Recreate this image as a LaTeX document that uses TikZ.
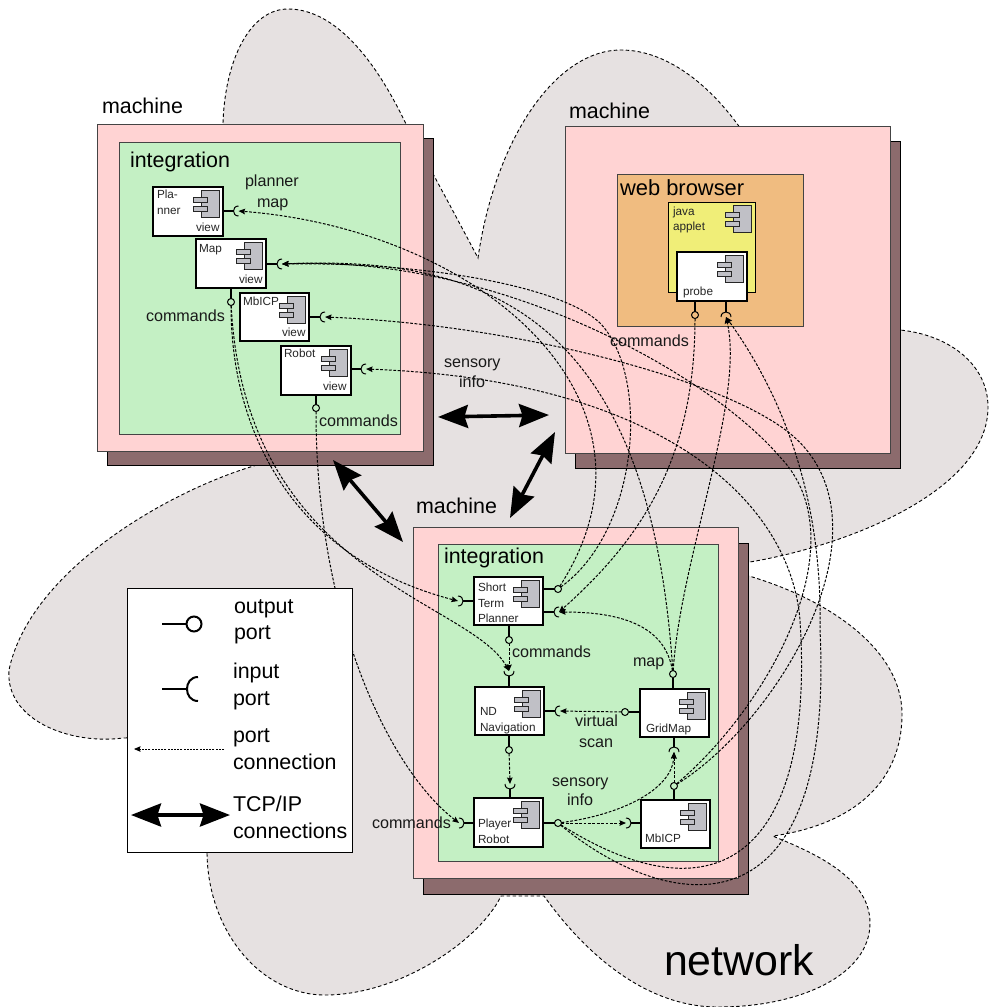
\documentclass[tikz,border=0pt]{standalone}
\usepackage{fontspec}
\setmainfont{Liberation Sans}
\usetikzlibrary{arrows.meta}
\definecolor{cloudgray}{HTML}{E6E1E1}
\definecolor{shadowc}{HTML}{8C6B6D}
\definecolor{pinkc}{HTML}{FFD3D3}
\definecolor{greenc}{HTML}{C4F0C4}
\definecolor{orangec}{HTML}{F0BC80}
\definecolor{yellowc}{HTML}{F0EE78}
\definecolor{icongray}{HTML}{C0C0C6}
\definecolor{edgegray}{HTML}{444444}
\tikzset{
  cloudpath/.style={fill=cloudgray,draw=black,line width=.9bp,dash pattern=on 3.5bp off 2.5bp},
  shadowbox/.style={draw=black,fill=shadowc,line width=1bp,inner sep=0pt,outer sep=0pt},
  machinebox/.style={draw=edgegray,fill=pinkc,line width=1bp,inner sep=0pt,outer sep=0pt},
  greenbox/.style={draw=edgegray,fill=greenc,line width=1bp,inner sep=0pt,outer sep=0pt},
  browserbox/.style={draw=edgegray,fill=orangec,line width=1bp,inner sep=0pt,outer sep=0pt},
  appletbox/.style={draw=black,fill=yellowc,line width=.9bp,inner sep=0pt,outer sep=0pt},
  compbox/.style={draw=black,fill=white,line width=1.2bp,inner sep=0pt,outer sep=0pt},
  iconshape/.style={draw=black!85,fill=icongray,line width=1bp},
  stub/.style={draw=black,line width=1.1bp},
  outport/.style={draw=black,circle,line width=1bp,minimum size=7bp,inner sep=0pt,outer sep=0pt},
  conn/.style={draw=black,line width=1bp,dash pattern=on 2.8bp off 1.6bp,-{Stealth[length=6.5bp,width=5.5bp,inset=.8bp]}},
  tcp/.style={draw=black,line width=3.6bp,{Stealth[length=30bp,width=23bp,inset=3.5bp]}-{Stealth[length=30bp,width=23bp,inset=3.5bp]}},
  bigtext/.style={font=\fontsize{21.5}{24}\selectfont,anchor=base west,inner sep=0pt,outer sep=0pt,text=black},
  midtext/.style={font=\fontsize{16.2}{19}\selectfont,anchor=base west,inner sep=0pt,outer sep=0pt,text=black!90},
  smalltext/.style={font=\fontsize{11.8}{14}\selectfont,anchor=base west,inner sep=0pt,outer sep=0pt,text=black!85},
  hugetext/.style={font=\fontsize{43}{48}\selectfont,anchor=base west,inner sep=0pt,outer sep=0pt,text=black},
  legendbox/.style={draw=black,fill=white,line width=1bp,inner sep=0pt,outer sep=0pt},
}
\newcommand\boxat[6]{\node[#1,anchor=north west,minimum width={(#5-#3)*1bp},minimum height={(#6-#4)*1bp}] (#2) at (#3,#4) {};}
\newcommand\compicon[1]{\begin{scope}[shift={(#1.north east)}]
  \draw[iconshape] (-22,3.5) rectangle (-4,30);
  \draw[iconshape] (-30,10) rectangle (-15.5,15.5);
  \draw[iconshape] (-30,19) rectangle (-15.5,24.5);
\end{scope}}
\newcommand\inport[4]{%
  \path[shift={(#2,#3)},rotate=#4] coordinate (#1) at (0,0) coordinate (#1t) at (5,0);
  \draw[stub,line width=1bp,shift={(#2,#3)},rotate=#4] (5,-5) .. controls (-1.67,-5) and (-1.67,5) .. (5,5);}
\begin{document}
\begin{tikzpicture}[x=1bp,y=-1bp]
\useasboundingbox (0,0) rectangle (989,1007);
% network cloud
\path[cloudpath] (257,465) .. controls (170,490) and (30,570) .. (9,670)
  .. controls (5,720) and (70,745) .. (123,738)
  .. controls (170,735) and (207,800) .. (207,851)
  .. controls (207,930) and (260,995) .. (325,995)
  .. controls (400,995) and (480,940) .. (501,896)
  -- (544,896)
  .. controls (590,960) and (650,1007) .. (718,1007)
  .. controls (800,1007) and (870,975) .. (870,923)
  .. controls (870,880) and (820,855) .. (775,837)
  -- (773,836)
  .. controls (850,825) and (902,785) .. (902,714)
  .. controls (902,650) and (830,600) .. (749,576)
  -- (730,570) -- (750,562)
  .. controls (850,545) and (988,490) .. (988,407)
  .. controls (988,365) and (950,335) .. (900,330)
  -- (745,135)
  .. controls (715,90) and (670,50) .. (621,50)
  .. controls (555,50) and (495,140) .. (478,258)
  .. controls (450,205) and (420,150) .. (404,120)
  .. controls (370,50) and (330,9) .. (288,9)
  .. controls (250,9) and (225,60) .. (223,123)
  -- (200,300) -- cycle;
\node[hugetext] (netlabel) at (664,975) {network};
% machines
\boxat{shadowbox}{shadowA}{107}{138}{433}{465}
\boxat{machinebox}{machineA}{97}{124}{423}{451}
\boxat{greenbox}{greenA}{119}{142}{400}{434}
\boxat{shadowbox}{shadowB}{575}{141}{900}{468}
\boxat{machinebox}{machineB}{565}{126}{890}{453}
\boxat{browserbox}{browser}{617}{174}{803}{326}
\boxat{shadowbox}{shadowC}{423}{543}{748}{894}
\boxat{machinebox}{machineC}{413}{527}{738}{878}
\boxat{greenbox}{greenC}{438}{544}{718}{861}
% components
\boxat{compbox}{planner}{153}{187}{223}{236}\compicon{planner}
\boxat{compbox}{mapview}{196}{239}{266}{288}\compicon{mapview}
\boxat{compbox}{mbview}{240}{293}{309}{341}\compicon{mbview}
\boxat{compbox}{robview}{281}{346}{351}{395}\compicon{robview}
\boxat{appletbox}{applet}{668}{202}{755}{292}\compicon{applet}
\boxat{compbox}{probe}{677}{252}{747}{301}\compicon{probe}
\boxat{compbox}{stp}{474}{577}{543}{625}\compicon{stp}
\boxat{compbox}{ndnav}{475}{687}{544}{735}\compicon{ndnav}
\boxat{compbox}{player}{474}{798}{543}{847}\compicon{player}
\boxat{compbox}{gridmap}{640}{689}{709}{737}\compicon{gridmap}
\boxat{compbox}{mbicp}{641}{800}{710}{848}\compicon{mbicp}
% input ports
\inport{planin}{233.5}{211}{0}
\inport{mapin}{277}{264}{0}
\inport{mbin}{320}{317}{0}
\inport{robin}{361}{369}{0}
\inport{stinl}{463}{601}{180}
\inport{stinr}{554}{612}{0}
\inport{ndtop}{509}{676}{90}
\inport{ndright}{555}{711}{0}
\inport{playtop}{510}{789}{90}
\inport{playleft}{464}{823}{180}
\inport{mbicpin}{631}{823}{180}
\inport{gridin}{674}{747}{-90}
\inport{probein}{726}{312}{-90}
\draw[stub] (planner.east |- planin) -- (planin);
\draw[stub] (mapview.east |- mapin) -- (mapin);
\draw[stub] (mbview.east |- mbin) -- (mbin);
\draw[stub] (robview.east |- robin) -- (robin);
\draw[stub] (stp.west |- stinl) -- (stinl);
\draw[stub] (stp.east |- stinr) -- (stinr);
\draw[stub] (ndnav.north -| ndtop) -- (ndtop);
\draw[stub] (ndnav.east |- ndright) -- (ndright);
\draw[stub] (player.north -| playtop) -- (playtop);
\draw[stub] (player.west |- playleft) -- (playleft);
\draw[stub] (mbicp.west |- mbicpin) -- (mbicpin);
\draw[stub] (gridmap.south -| gridin) -- (gridin);
\draw[stub] (probe.south -| probein) -- (probein);
% output ports
\node[outport] (mapout) at (231,302) {};
\node[outport] (robout) at (316,408) {};
\node[outport] (probeout) at (695,315) {};
\node[outport] (stout) at (558,589) {};
\node[outport] (stbot) at (509,640) {};
\node[outport] (ndbot) at (509,750) {};
\node[outport] (playout) at (558,823) {};
\node[outport] (mbout) at (674,786) {};
\node[outport] (gridtop) at (673,674) {};
\node[outport] (gridleft) at (625,712) {};
\draw[stub] (mapview.south -| mapout) -- (mapout);
\draw[stub] (robview.south -| robout) -- (robout);
\draw[stub] (probe.south -| probeout) -- (probeout);
\draw[stub] (stp.east |- stout) -- (stout);
\draw[stub] (stp.south -| stbot) -- (stbot);
\draw[stub] (ndnav.south -| ndbot) -- (ndbot);
\draw[stub] (player.east |- playout) -- (playout);
\draw[stub] (mbicp.north -| mbout) -- (mbout);
\draw[stub] (gridmap.north -| gridtop) -- (gridtop);
\draw[stub] (gridmap.west |- gridleft) -- (gridleft);
% port connections
\draw[conn] (mapout) .. controls (231,440) and (300,560) .. (stinlt);
\draw[conn] (mapout) .. controls (245,575) and (470,600) .. (ndtopt);
\draw[conn] (robout) .. controls (316,620) and (390,770) .. (playleftt);
\draw[conn] (stout) .. controls (680,400) and (480,230) .. (planint);
\draw[conn] (stout) .. controls (640,530) and (650,375) .. (600,323) .. controls (560,285) and (420,262) .. (mapint);
\draw[conn] (gridtop) .. controls (650,320) and (490,255) .. (mapint);
\draw[conn] (mbout) .. controls (770,705) and (860,540) .. (780,457) .. controls (710,375) and (500,255) .. (mapint);
\draw[conn] (mbout) .. controls (780,720) and (895,525) .. (793,436) .. controls (730,381) and (520,325) .. (mbint);
\draw[conn] (playout) .. controls (720,925) and (815,850) .. (800,620) .. controls (790,500) and (660,380) .. (robint);
\draw[conn] (playout) .. controls (670,915) and (835,940) .. (820,630) .. controls (822,530) and (800,420) .. (probeint);
\draw[conn] (gridtop) .. controls (680,560) and (745,400) .. (probeint);
\draw[conn] (gridtop) .. controls (665,625) and (620,612) .. (stinrt);
\draw[conn] (probeout) .. controls (695,460) and (640,540) .. (stinrt);
\draw[conn] (playout) .. controls (620,815) and (672,790) .. (gridint);
\draw[conn] (mbout) -- (gridint);
\draw[conn] (playout) -- (mbicpint);
\draw[conn] (stbot) -- (ndtopt);
\draw[conn] (ndbot) -- (playtopt);
\draw[conn] (gridleft) -- (ndrightt);
% labels
\node[bigtext] (lmA) at (102,113.5) {machine};
\node[bigtext] (lmB) at (569,118.5) {machine};
\node[bigtext] (lmC) at (416,513.5) {machine};
\node[bigtext] (liA) at (130,167.5) {integration};
\node[bigtext] (liC) at (444,563.5) {integration};
\node[bigtext,font=\fontsize{22}{24}\selectfont] (lweb) at (620,195) {web browser};
\node[midtext] (lplanner) at (245,186) {planner};
\node[midtext] (lmap) at (257,207) {map};
\node[midtext] (lcmdA) at (146,321) {commands};
\node[midtext] (lcmdB) at (319,426) {commands};
\node[midtext] (lsensA) at (444,367) {sensory};
\node[midtext] (linfoA) at (459,387) {info};
\node[midtext] (lcmdC) at (610,346) {commands};
\node[midtext] (lcmdD) at (512,657) {commands};
\node[midtext] (lmapB) at (633,666) {map};
\node[midtext] (lvirt) at (575,726) {virtual};
\node[midtext] (lscan) at (579,747) {scan};
\node[midtext] (lsensB) at (552,786) {sensory};
\node[midtext] (linfoB) at (567,805) {info};
\node[midtext] (lcmdE) at (372,828) {commands};
\node[smalltext] (tpla) at (157,198) {Pla-};
\node[smalltext] (tnner) at (157,214) {nner};
\node[smalltext] (tviewA) at (196,231) {view};
\node[smalltext] (tmap) at (199,252) {Map};
\node[smalltext] (tviewB) at (239,283) {view};
\node[smalltext] (tmb) at (243,305) {MbICP};
\node[smalltext] (tviewC) at (282,336) {view};
\node[smalltext] (trob) at (284,357) {Robot};
\node[smalltext] (tviewD) at (323,390) {view};
\node[smalltext] (tjava) at (673,215) {java};
\node[smalltext] (tapplet) at (673,230) {applet};
\node[smalltext] (tprobe) at (683,295) {probe};
\node[smalltext] (tshort) at (478,591) {Short};
\node[smalltext] (tterm) at (478,607) {Term};
\node[smalltext] (tplanner) at (478,622) {Planner};
\node[smalltext] (tnd) at (480,715) {ND};
\node[smalltext] (tnav) at (480,731) {Navigation};
\node[smalltext] (tgrid) at (646,732) {GridMap};
\node[smalltext] (tplayer) at (478,827) {Player};
\node[smalltext] (trobot) at (478,843) {Robot};
\node[smalltext] (tmbicp) at (645,842) {MbICP};
% TCP/IP connections
\coordinate (tcpAa) at (438,417);
\coordinate (tcpAb) at (549,415);
\coordinate (tcpBa) at (555,432);
\coordinate (tcpBb) at (510,518);
\coordinate (tcpCa) at (333,460);
\coordinate (tcpCb) at (403,542);
\draw[tcp] (tcpAa) -- (tcpAb);
\draw[tcp] (tcpBa) -- (tcpBb);
\draw[tcp] (tcpCa) -- (tcpCb);
% legend
\boxat{legendbox}{legend}{127}{588}{352}{852}
\node[outport,line width=2bp,minimum size=15bp] (legout) at (194,624) {};
\coordinate (legoutl) at (162,624);
\draw[stub,line width=2bp] (legoutl) -- (legout);
\coordinate (leginl) at (162,689);
\coordinate (leginr) at (187,689);
\coordinate (legtipa) at (198,677);
\coordinate (legtipb) at (198,701);
\draw[stub,line width=2bp] (leginl) -- (leginr);
\draw[stub,line width=2bp] (legtipa) .. controls (183.3,677) and (183.3,701) .. (legtipb);
\coordinate (legcona) at (224,749);
\coordinate (legconb) at (134,749);
\draw[conn,line width=.8bp,dash pattern=on 2bp off 1.2bp] (legcona) -- (legconb);
\coordinate (legtcpa) at (131,815);
\coordinate (legtcpb) at (230,815);
\draw[tcp] (legtcpa) -- (legtcpb);
\node[bigtext] (lo1) at (234,613) {output};
\node[bigtext] (lo2) at (234,639) {port};
\node[bigtext] (li1) at (233,678.5) {input};
\node[bigtext] (li2) at (233,705.5) {port};
\node[bigtext] (lc1) at (233,742.5) {port};
\node[bigtext] (lc2) at (233,769.5) {connection};
\node[bigtext] (lt1) at (233,811.5) {TCP/IP};
\node[bigtext] (lt2) at (233,838.5) {connections};
\end{tikzpicture}
\end{document}
